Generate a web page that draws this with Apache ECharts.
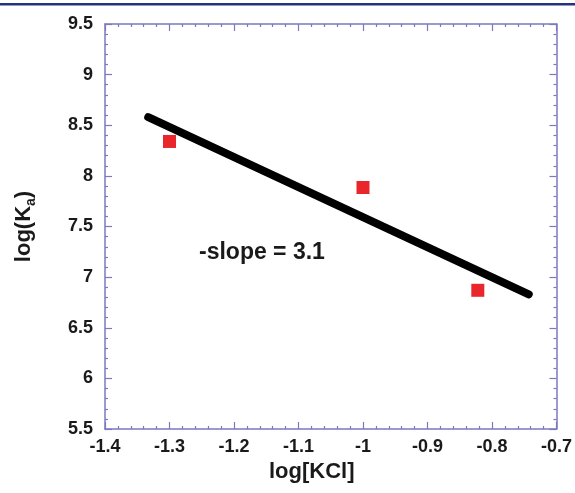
<!DOCTYPE html>
<html>
<head>
<meta charset="utf-8">
<script src="https://cdn.jsdelivr.net/npm/echarts@6/dist/echarts.min.js"></script>
<style>
html,body{margin:0;padding:0;background:#fff;}
#c{width:575px;height:493px;}
</style>
</head>
<body>
<div id="c"></div>
<script>
// Data
var pointX = [-1.30, -1.00, -0.822];
var pointY = [8.34, 7.885, 6.87];
var fitX = [-1.333, -0.743];
var fitY = [8.58, 6.83];
var xTicks = [-1.4, -1.3, -1.2, -1.1, -1, -0.9, -0.8, -0.7];
var yTicks = [5.5, 6, 6.5, 7, 7.5, 8, 8.5, 9, 9.5];
var annotation = '-slope = 3.1';

var axisColor = '#7b78bf';
var font = '"Liberation Sans", Arial, sans-serif';

function fmt(v){ return String(parseFloat(v.toFixed(2))); }

var chart = echarts.init(document.getElementById('c'), null, {renderer:'canvas'});

var baseX = {
  type:'value', min:xTicks[0], max:xTicks[xTicks.length-1], interval:0.1,
  axisLine:{show:true, onZero:false, lineStyle:{color:axisColor, width:1.5}},
  axisTick:{show:true, inside:true, length:7, lineStyle:{color:axisColor, width:1.2}},
  minorTick:{show:true, splitNumber:5, length:3, lineStyle:{color:axisColor, width:1.2}},
  splitLine:{show:false}
};
var baseY = {
  type:'value', min:yTicks[0], max:yTicks[yTicks.length-1], interval:0.5,
  axisLine:{show:true, onZero:false, lineStyle:{color:axisColor, width:1.5}},
  axisTick:{show:true, inside:true, length:7, lineStyle:{color:axisColor, width:1.2}},
  minorTick:{show:true, splitNumber:5, length:3, lineStyle:{color:axisColor, width:1.2}},
  splitLine:{show:false}
};

var lineData = fitX.map(function(x,i){return [x, fitY[i]];});
var ptData = pointX.map(function(x,i){return [x, pointY[i]];});

chart.setOption({
  animation:false,
  backgroundColor:'#ffffff',
  grid:{left:105, right:17, top:24, bottom:64},
  graphic:[
    {type:'rect', left:0, top:3, shape:{width:575, height:2.5}, style:{fill:'#26327c'}},
    {type:'text', left:199, top:241, style:{text:annotation, fontSize:23, fontWeight:'bold', fontFamily:font, fill:'#1a1a1a'}}
  ],
  xAxis:[
    Object.assign({}, baseX, {
      position:'bottom',
      axisLabel:{show:true, margin:9, color:'#1a1a1a', fontSize:18, fontWeight:'bold', fontFamily:font, formatter:fmt},
      name:'log[KCl]', nameLocation:'middle', nameGap:32,
      nameTextStyle:{color:'#1a1a1a', fontSize:22, fontWeight:'bold', fontFamily:font, padding:[0,38,0,0]}
    }),
    Object.assign({}, baseX, {position:'top', axisLabel:{show:false}})
  ],
  yAxis:[
    Object.assign({}, baseY, {
      position:'left',
      axisLabel:{show:true, margin:12, color:'#1a1a1a', fontSize:18, fontWeight:'bold', fontFamily:font, formatter:fmt},
      name:'{b|log(K}{s|a}{b|)}', nameLocation:'middle', nameGap:68, nameRotate:90,
      nameTextStyle:{
        color:'#1a1a1a', fontFamily:font,
        rich:{
          b:{fontSize:22, fontWeight:'bold', fontFamily:font, color:'#1a1a1a', lineHeight:26},
          s:{fontSize:14, fontWeight:'bold', fontFamily:font, color:'#1a1a1a', lineHeight:26, padding:[14,0,0,0]}
        }
      }
    }),
    Object.assign({}, baseY, {position:'right', axisLabel:{show:false}})
  ],
  series:[
    {type:'line', xAxisIndex:0, yAxisIndex:0, data:lineData, symbol:'none',
     lineStyle:{color:'#000000', width:8, cap:'round'}, z:2},
    {type:'scatter', xAxisIndex:0, yAxisIndex:0, data:ptData, symbol:'rect', symbolSize:13,
     itemStyle:{color:'#e8262b', opacity:1}, z:3}
  ]
});
</script>
</body>
</html>
